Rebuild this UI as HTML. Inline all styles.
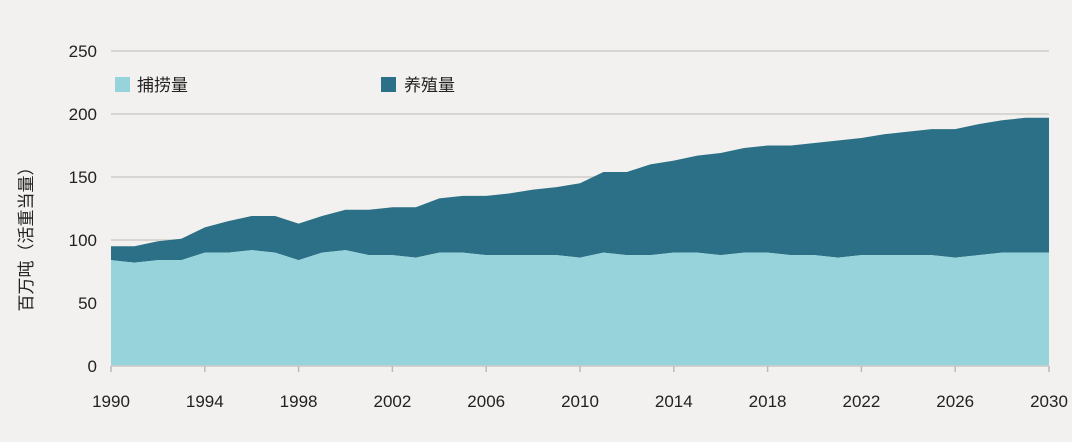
<!DOCTYPE html>
<html><head><meta charset="utf-8"><style>
body{margin:0;background:#f2f1ef;}
svg{display:block;font-family:"Liberation Sans","Noto Sans CJK SC",sans-serif;}
</style></head><body>
<svg id="chart" width="1072" height="442">
<rect width="1072" height="442" fill="#f2f1ef"/>
<g id="grid"></g><g id="areas"></g><g id="axes"></g>
<text transform="translate(32,235) rotate(-90)" text-anchor="middle" font-size="17" fill="#222">百万吨（活重当量）</text>
<rect x="115" y="77" width="15" height="15" fill="#96d3db"/>
<text x="137" y="91" font-size="17" fill="#222">捕捞量</text>
<rect x="381" y="77" width="15" height="15" fill="#2b7086"/>
<text x="404" y="91" font-size="17" fill="#222">养殖量</text>
</svg>
<script>
const years=[];for(let y=1990;y<=2030;y++)years.push(y);
const capture=[84,82,84,84,90,90,92,90,84,90,92,88,88,86,90,90,88,88,88,88,86,90,88,88,90,90,88,90,90,88,88,86,88,88,88,88,86,88,90,90,90];
const aquaculture=[11,13,15,17,20,25,27,29,29,29,32,36,38,40,43,45,47,49,52,54,59,64,66,72,73,77,81,83,85,87,89,93,93,96,98,100,102,104,105,107,107];
const yTicks=[0,50,100,150,200,250];
const xTicks=[1990,1994,1998,2002,2006,2010,2014,2018,2022,2026,2030];
const NS="http://www.w3.org/2000/svg";
const x0=111,x1=1049,y0=366,yTop=51;
const X=v=>x0+(v-1990)/40*(x1-x0);
const Y=v=>y0-v/250*(y0-yTop);
function mk(t,a,p){const e=document.createElementNS(NS,t);for(const k in a)e.setAttribute(k,a[k]);p.appendChild(e);return e;}
const grid=document.getElementById('grid'),areas=document.getElementById('areas'),axes=document.getElementById('axes');
yTicks.forEach(v=>{
 const l=mk('line',{x1:x0,x2:x1,y1:Y(v),y2:Y(v),stroke:'#cfcdca','stroke-width':1.5},grid);
 
 
 const t=mk('text',{x:97,y:Y(v)+6,'text-anchor':'end','font-size':17,fill:'#222'},axes);
 t.textContent=v;
 
 
});
let capPts=years.map((y,i)=>X(y)+','+Y(capture[i]));
let capPath='M'+X(1990)+','+Y(0)+' L'+capPts.join(' L')+' L'+X(2030)+','+Y(0)+'Z';
let topPts=years.map((y,i)=>X(y)+','+Y(capture[i]+aquaculture[i]));
let revCap=years.slice().reverse().map((y,j)=>{const i=years.length-1-j;return X(y)+','+Y(capture[i]);});
const aq=mk('path',{d:'M'+topPts.join(' L')+' L'+revCap.join(' L')+'Z',fill:'#2b7086'},areas);


const cp=mk('path',{d:capPath,fill:'#96d3db'},areas);


const base=mk('line',{x1:x0,x2:x1,y1:y0,y2:y0,stroke:'#cfcdca','stroke-width':1.5},axes);


xTicks.forEach(v=>{
 const tk=mk('line',{x1:X(v),x2:X(v),y1:y0,y2:y0+6,stroke:'#bbb','stroke-width':1.5},axes);
 
 
 const t=mk('text',{x:X(v),y:407,'text-anchor':'middle','font-size':17,fill:'#222'},axes);
 t.textContent=v;
 
 
});
</script>
</body></html>
